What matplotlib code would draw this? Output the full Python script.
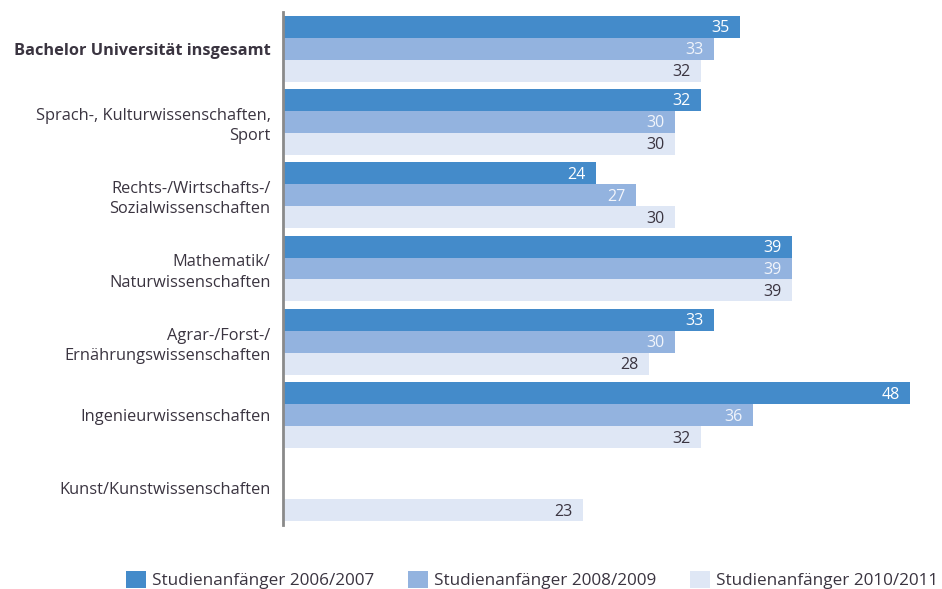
import matplotlib
matplotlib.use("Agg")
import matplotlib.pyplot as plt
from matplotlib.patches import Patch

categories = [
    "Bachelor Universität insgesamt",
    "Sprach-, Kulturwissenschaften,\nSport",
    "Rechts-/Wirtschafts-/\nSozialwissenschaften",
    "Mathematik/\nNaturwissenschaften",
    "Agrar-/Forst-/\nErnährungswissenschaften",
    "Ingenieurwissenschaften",
    "Kunst/Kunstwissenschaften",
]
series_names = ["Studienanfänger 2006/2007", "Studienanfänger 2008/2009", "Studienanfänger 2010/2011"]
v2006 = [35, 32, 24, 39, 33, 48, None]
v2008 = [33, 30, 27, 39, 30, 36, None]
v2010 = [32, 30, 30, 39, 28, 32, 23]
series = [v2006, v2008, v2010]

colors = ["#448bca", "#93b3df", "#dfe7f5"]
label_colors = ["white", "#f2f5fb", "#3a3440"]
text_color = "#3a3440"

plt.rcParams['font.family'] = ['Open Sans', 'DejaVu Sans']

fig = plt.figure(figsize=(9.42, 5.89), dpi=100)
ax = fig.add_axes([283/942, 1-525/589, (936-283)/942, (525-12)/589])

h = 0.30
for j, vals in enumerate(series):
    for i, v in enumerate(vals):
        if v is None:
            continue
        y = i + (j - 1) * h
        ax.barh(y, v, height=h, color=colors[j], edgecolor="none")
        ax.text(v - 0.8, y + 0.02, str(v), ha="right", va="center",
                fontsize=11.5, color=label_colors[j])

ax.set_xlim(0, 50)
ax.set_ylim(6.5, -0.5)
ax.set_yticks(range(len(categories)))
ax.set_yticklabels(categories, fontsize=11.8, color=text_color, linespacing=1.35)
ax.get_yticklabels()[0].set_fontweight("bold")
ax.tick_params(axis="y", length=0, pad=9)
ax.set_xticks([])
for s in ["top", "right", "bottom"]:
    ax.spines[s].set_visible(False)
ax.spines["left"].set_color("#8a8a8a")
ax.spines["left"].set_linewidth(2)

handles = [Patch(facecolor=c, edgecolor="none") for c in colors]
fig.legend(handles, series_names, loc="lower center", bbox_to_anchor=(0.565, -0.012),
           ncol=3, frameon=False, fontsize=12.3, handlelength=1.15, handleheight=1.2,
           handletextpad=0.35, columnspacing=2.0, labelcolor=text_color,
           borderaxespad=0.0)

fig.savefig("out.png", dpi=100)
